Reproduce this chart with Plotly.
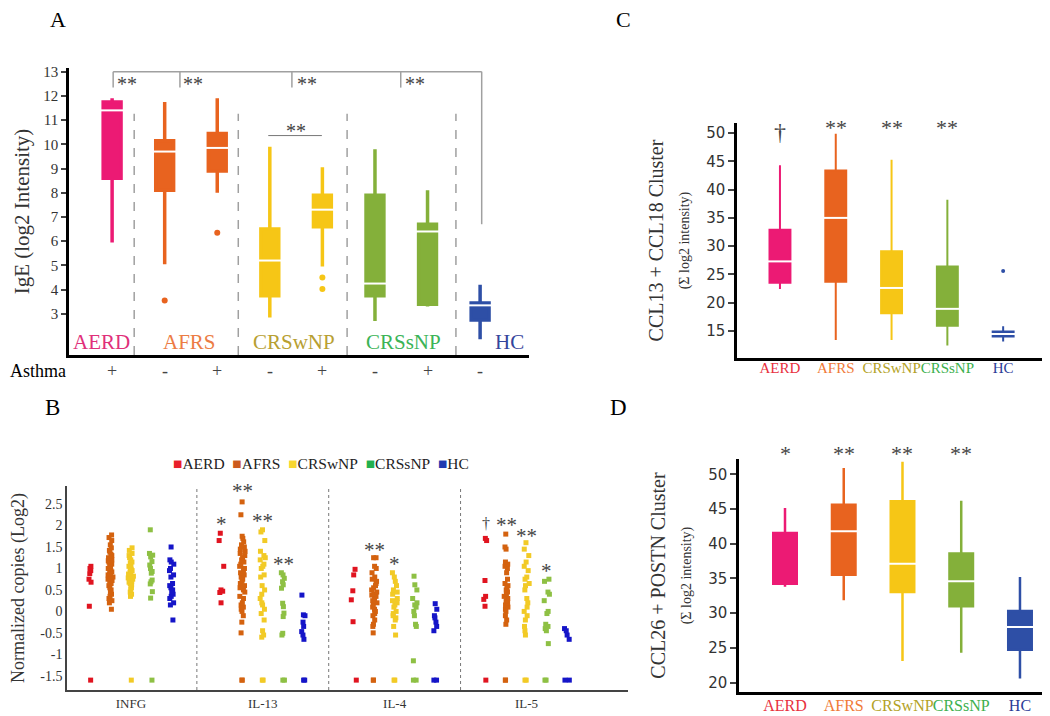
import plotly.graph_objects as go

SERIF = "Liberation Serif"
SANS = "DejaVu Sans"

# page body adds an 8px margin, so lay out on a 1042x708 canvas
W, H, OFF = 1042, 708, 8


def px(x):
    return (x - OFF) / W


def py(y):
    return 1 - (y - OFF) / H


groups = ["AERD", "AFRS", "CRSwNP", "CRSsNP", "HC"]

# colours
box_colors = ["#ec1a74", "#e8631f", "#f6c616", "#84b03a", "#2e4fa6"]
a_label_colors = ["#e0307a", "#ec7c44", "#b8a032", "#3cb457", "#34459c"]
cd_label_colors = ["#e8303e", "#f07a38", "#b3a226", "#3cb04e", "#2c3c98"]
dot_colors = ["#e01420", "#d4620f", "#f2ca26", "#8ec044", "#1515c8"]
legend_colors = ["#e8202a", "#cc5a1c", "#f8d630", "#22b04e", "#1e3ab0"]

# ---- panel A: IgE by group and asthma status ----
a_pos = [1, 2, 3, 4, 5, 6, 7, 8]
a_group = ["AERD", "AFRS", "AFRS", "CRSwNP", "CRSwNP", "CRSsNP", "CRSsNP", "HC"]
a_asthma = ["+", "-", "+", "-", "+", "-", "+", "-"]
a_low = [5.95, 5.05, 8.0, 2.85, 4.95, 2.7, 3.3, 1.95]
a_q1 = [8.6, 8.1, 8.9, 3.75, 6.6, 3.75, 3.4, 2.75]
a_med = [11.4, 9.7, 9.85, 5.2, 7.3, 4.25, 6.4, 3.35]
a_q3 = [11.75, 10.15, 10.45, 6.5, 7.9, 7.9, 6.7, 3.45]
a_high = [11.9, 11.75, 11.9, 9.9, 9.05, 9.8, 8.1, 4.2]
a_out_x = [2, 3, 5, 5]
a_out_y = [3.55, 6.35, 4.5, 4.02]

# ---- panel B: normalized copies (log2) per gene ----
genes = ["INFG", "IL-13", "IL-4", "IL-5"]
b_yticks = [2.5, 2, 1.5, 1, 0.5, 0, -0.5, -1, -1.5]

infg_aerd = [1.05, 1.0, 0.95, 0.88, 0.75, 0.68, 0.12, -1.6]
infg_afrs = [1.78, 1.72, 1.65, 1.55, 1.48, 1.42, 1.38, 1.33, 1.3, 1.25, 1.2, 1.18, 1.15,
             1.12, 1.1, 1.05, 1.02, 1.0, 0.98, 0.95, 0.92, 0.9, 0.87, 0.85, 0.82, 0.8,
             0.77, 0.75, 0.72, 0.7, 0.65, 0.6, 0.55, 0.5, 0.45, 0.4, 0.35, 0.3, 0.25, 0.2, 0.05]
infg_crswnp = [1.48, 1.42, 1.35, 1.3, 1.25, 1.2, 1.15, 1.12, 1.08, 1.05, 1.0, 0.98, 0.95,
               0.92, 0.9, 0.87, 0.85, 0.82, 0.8, 0.78, 0.75, 0.72, 0.7, 0.68, 0.65, 0.62,
               0.6, 0.55, 0.5, 0.45, 0.4, 0.35, -1.6]
infg_crssnp = [1.9, 1.35, 1.31, 1.27, 1.16, 1.08, 1.0, 0.93, 0.89, 0.73, 0.69, 0.64, 0.46, 0.31, -1.6]
infg_hc = [1.5, 1.2, 1.15, 1.1, 1.0, 0.95, 0.85, 0.8, 0.65, 0.6, 0.55, 0.5, 0.45, 0.4,
           0.35, 0.3, 0.2, 0.15, -0.2]

il13_aerd = [1.82, 1.65, 1.05, 0.5, 0.47, 0.44, 0.2]
il13_afrs = [2.55, 2.25, 1.75, 1.7, 1.62, 1.55, 1.5, 1.45, 1.4, 1.35, 1.3, 1.25, 1.2, 1.15,
             1.1, 1.05, 1.0, 0.95, 0.9, 0.85, 0.8, 0.75, 0.7, 0.65, 0.6, 0.55, 0.5, 0.45,
             0.35, 0.3, 0.2, 0.15, 0.1, 0.05, 0.0, -0.1, -0.25, -0.5, -1.6, -1.6]
il13_crswnp = [1.9, 1.85, 1.65, 1.4, 1.3, 1.25, 1.2, 1.1, 1.05, 1.0, 0.85, 0.8, 0.6, 0.5,
               0.4, 0.3, 0.2, 0.15, 0.05, -0.05, -0.2, -0.45, -0.55, -0.6, -1.6, -1.6]
il13_crssnp = [0.9, 0.85, 0.77, 0.69, 0.62, 0.54, 0.19, 0.11, -0.04, -0.12, -0.51, -0.55, -1.6, -1.6]
il13_hc = [0.38, -0.08, -0.1, -0.25, -0.35, -0.47, -0.55, -0.65, -1.6, -1.6]

il4_aerd = [0.98, 0.85, 0.48, 0.27, -0.24, -1.6]
il4_afrs = [1.25, 1.25, 1.05, 1.0, 0.9, 0.8, 0.75, 0.7, 0.65, 0.6, 0.55, 0.5, 0.45, 0.4,
            0.38, 0.35, 0.3, 0.25, 0.2, 0.15, 0.1, 0.05, 0.0, -0.05, -0.1, -0.2, -0.3,
            -0.35, -0.5, -1.6, -1.6]
il4_crswnp = [0.9, 0.8, 0.7, 0.6, 0.5, 0.45, 0.4, 0.3, 0.25, 0.2, 0.15, 0.1, 0.0, -0.05,
              -0.1, -0.15, -0.2, -0.35, -0.55, -1.6, -1.6]
il4_crssnp = [0.82, 0.62, 0.5, 0.3, 0.2, 0.15, 0.1, 0.0, -0.1, -0.3, -0.35, -1.15, -1.6, -1.6]
il4_hc = [0.18, 0.05, -0.1, -0.15, -0.25, -0.35, -0.45, -1.6, -1.6]

il5_aerd = [1.7, 1.65, 0.72, 0.35, 0.28, 0.12, -1.6]
il5_afrs = [1.8, 1.5, 1.45, 1.15, 1.1, 1.05, 1.0, 0.9, 0.75, 0.65, 0.6, 0.55, 0.5, 0.45,
            0.4, 0.35, 0.3, 0.25, 0.2, 0.15, 0.1, 0.05, 0.0, -0.1, -0.2, -0.3, -1.6, -1.6]
il5_crswnp = [1.6, 1.45, 1.3, 1.15, 1.05, 0.95, 0.8, 0.75, 0.65, 0.6, 0.5, 0.3, 0.2, 0.1,
              0.0, -0.1, -0.2, -0.35, -0.45, -0.55, -1.6, -1.6]
il5_crssnp = [0.75, 0.7, 0.45, 0.4, 0.25, 0.0, -0.05, -0.3, -0.35, -0.4, -0.45, -0.75, -1.6, -1.6]
il5_hc = [-0.4, -0.45, -0.55, -0.65, -1.6, -1.6]

b_points = {
    "AERD": [infg_aerd, il13_aerd, il4_aerd, il5_aerd],
    "AFRS": [infg_afrs, il13_afrs, il4_afrs, il5_afrs],
    "CRSwNP": [infg_crswnp, il13_crswnp, il4_crswnp, il5_crswnp],
    "CRSsNP": [infg_crssnp, il13_crssnp, il4_crssnp, il5_crssnp],
    "HC": [infg_hc, il13_hc, il4_hc, il5_hc],
}

# significance marks in B: gene, group, text, level
b_sig_gene = ["IL-13", "IL-13", "IL-13", "IL-13", "IL-4", "IL-4", "IL-5", "IL-5", "IL-5", "IL-5"]
b_sig_group = ["AERD", "AFRS", "CRSwNP", "CRSsNP", "AFRS", "CRSwNP", "AERD", "AFRS", "CRSwNP", "CRSsNP"]
b_sig_text = ["*", "**", "**", "**", "**", "*", "†", "**", "**", "*"]
b_sig_y = [2.13, 2.9, 2.2, 1.2, 1.52, 1.2, 2.05, 2.1, 1.85, 1.03]

# ---- panel C: CCL13 + CCL18 cluster ----
c_low = [22.4, 13.4, 13.4, 12.4, 13.1]
c_q1 = [23.5, 23.7, 18.1, 15.9, 14.0]
c_med = [27.3, 35.0, 22.6, 18.9, 14.45]
c_q3 = [32.9, 43.4, 29.1, 26.4, 14.9]
c_high = [44.3, 49.9, 45.3, 38.2, 15.8]
c_out_x = ["HC"]
c_out_y = [25.6]
c_sig = ["†", "**", "**", "**", ""]

# ---- panel D: CCL26 + POSTN cluster ----
d_low = [33.8, 31.85, 23.1, 24.3, 20.6]
d_q1 = [34.25, 35.55, 33.05, 31.0, 24.75]
d_med = [34.25, 41.8, 37.1, 34.6, 28.0]
d_q3 = [41.55, 45.6, 46.1, 38.6, 30.3]
d_high = [45.15, 50.9, 51.8, 46.2, 35.2]
d_sig = ["*", "**", "**", "**", ""]

fig = go.Figure()

# panel A boxes
for i, p in enumerate(a_pos):
    col = box_colors[groups.index(a_group[i])]
    fig.add_trace(go.Box(
        x=[p], q1=[a_q1[i]], median=[a_med[i]], q3=[a_q3[i]],
        lowerfence=[a_low[i]], upperfence=[a_high[i]],
        width=0.34, whiskerwidth=0, boxpoints=False,
        fillcolor=col, line=dict(color=col, width=3.5),
        xaxis="x", yaxis="y", showlegend=False))
fig.add_trace(go.Scatter(
    x=a_pos, y=a_med, mode="markers", xaxis="x", yaxis="y", showlegend=False,
    marker=dict(symbol="line-ew", size=20, line=dict(color="white", width=2))))
fig.add_trace(go.Scatter(
    x=a_out_x, y=a_out_y, mode="markers", xaxis="x", yaxis="y", showlegend=False,
    marker=dict(size=6, color=[box_colors[groups.index(a_group[a_pos.index(x)])] for x in a_out_x])))

# panel B dot strips (box trace used only for its jittered points)
for gi, g in enumerate(groups):
    xs, ys = [], []
    for k, gene in enumerate(genes):
        xs += [gene] * len(b_points[g][k])
        ys += b_points[g][k]
    fig.add_trace(go.Box(
        x=xs, y=ys, name=g, boxpoints="all", jitter=0.28, pointpos=0,
        offsetgroup=g, alignmentgroup="B",
        fillcolor="rgba(0,0,0,0)", line=dict(color="rgba(0,0,0,0)", width=0),
        marker=dict(symbol="square", size=5, color=dot_colors[gi]),
        xaxis="x2", yaxis="y2", showlegend=False))


def cluster_panel(xa, ya, low, q1, med, q3, high, width, lw, msize):
    for i, g in enumerate(groups):
        fig.add_trace(go.Box(
            x=[g], q1=[q1[i]], median=[med[i]], q3=[q3[i]],
            lowerfence=[low[i]], upperfence=[high[i]],
            width=width, whiskerwidth=0, boxpoints=False,
            fillcolor=box_colors[i], line=dict(color=box_colors[i], width=lw),
            xaxis=xa, yaxis=ya, showlegend=False))
    mx = [g for i, g in enumerate(groups) if med[i] > q1[i]]
    my = [m for i, m in enumerate(med) if med[i] > q1[i]]
    fig.add_trace(go.Scatter(
        x=mx, y=my, mode="markers", xaxis=xa, yaxis=ya, showlegend=False,
        marker=dict(symbol="line-ew", size=msize, line=dict(color="white", width=2))))


cluster_panel("x3", "y3", c_low, c_q1, c_med, c_q3, c_high, 0.375, 2, 21)
fig.add_trace(go.Scatter(x=c_out_x, y=c_out_y, mode="markers", xaxis="x3", yaxis="y3",
                         showlegend=False, marker=dict(size=4, color=box_colors[4])))
cluster_panel("x4", "y4", d_low, d_q1, d_med, d_q3, d_high, 0.40, 2.5, 24)

# ---- annotations ----
ann = []
gray = "#444444"


def txt(x, y, text, size, color="black", font=SERIF, xref="paper", yref="paper",
        xanchor="center", yanchor="middle", **kw):
    ann.append(dict(x=x, y=y, xref=xref, yref=yref, text=text, showarrow=False,
                    xanchor=xanchor, yanchor=yanchor,
                    font=dict(family=font, size=size, color=color), **kw))


# panel letters
txt(px(58), py(20), "A", 22)
txt(px(52), py(407), "B", 23)
txt(px(623), py(20), "C", 22)
txt(px(618), py(407), "D", 23)

# A: group names inside plot, asthma row, brackets
a_label_x = [0.8, 2.48, 4.46, 6.55, 8.55]
for i, g in enumerate(groups):
    txt(a_label_x[i], 1.84, g, 21, a_label_colors[i], xref="x", yref="y")
txt(0, py(371), "Asthma", 18, xanchor="left")
for i, p in enumerate(a_pos):
    txt(p, py(371), a_asthma[i], 18, gray, xref="x")
a_star_x = [1.29, 2.54, 4.71, 6.76]
for x in a_star_x:
    txt(x, 12.67, "**", 20, gray, xref="x", yref="y", yshift=-4)
txt(4.5, 10.7, "**", 20, gray, xref="x", yref="y", yshift=-4)

# B: legend row, gene sig marks
leg = "\u00a0\u00a0".join(
    "<span style='color:%s'>\u25a0</span>%s" % (legend_colors[i], g) for i, g in enumerate(groups))
txt(px(171), py(464), leg, 15.5, "#222222", xanchor="left")
for i, t in enumerate(b_sig_text):
    gx = genes.index(b_sig_gene[i]) + (groups.index(b_sig_group[i]) - 2) * 0.155
    txt(gx, b_sig_y[i], t, 21 if t != "†" else 16, gray, xref="x2", yref="y2",
        yshift=-4 if t != "†" else 0)

# C / D sig marks
for i, g in enumerate(groups):
    if c_sig[i] == "†":
        txt(g, py(132), c_sig[i], 24, gray, xref="x3")
    elif c_sig[i]:
        txt(g, py(124), c_sig[i], 22, gray, xref="x3", yshift=-4)
    if d_sig[i]:
        txt(g, py(449), d_sig[i], 22, gray, xref="x4", yshift=-4)

# ---- shapes ----
shapes = []
a_div = [1.42, 3.4, 5.47, 7.54]
for xv in a_div:
    shapes.append(dict(type="line", xref="x", yref="y", x0=xv, x1=xv, y0=1.3, y1=11.26,
                       line=dict(color="#a0a0a0", width=1.5, dash="dash")))
a_br_x = [1.02, 2.29, 4.42, 6.49]
shapes.append(dict(type="line", xref="x", yref="y", x0=1.02, x1=8.03, y0=13, y1=13,
                   line=dict(color="#a0a0a0", width=1.5)))
for xv in a_br_x:
    shapes.append(dict(type="line", xref="x", yref="y", x0=xv, x1=xv, y0=13, y1=12.34,
                       line=dict(color="#a0a0a0", width=1.5)))
shapes.append(dict(type="line", xref="x", yref="y", x0=8.03, x1=8.03, y0=13, y1=6.7,
                   line=dict(color="#a0a0a0", width=1.5)))
shapes.append(dict(type="line", xref="x", yref="y", x0=3.97, x1=4.99, y0=10.36, y1=10.36,
                   line=dict(color="#777777", width=1)))
for xv in [0.5, 1.5, 2.5]:
    shapes.append(dict(type="line", xref="x2", yref="y2 domain", x0=xv, x1=xv, y0=0, y1=1,
                       line=dict(color="#777777", width=1, dash="dot")))

base_axis = dict(showgrid=False, zeroline=False, showline=True, linecolor="black")
cd_ticktext = ["<span style='color:%s'>%s</span>" % (cd_label_colors[i], g)
               for i, g in enumerate(groups)]

fig.update_layout(
    width=W, height=H, margin=dict(l=0, r=0, t=0, b=0),
    template="none", plot_bgcolor="white", paper_bgcolor="white",
    showlegend=False, boxmode="group", boxgap=0.225, boxgroupgap=0,
    annotations=ann, shapes=shapes,
    xaxis=dict(base_axis, domain=[px(69), px(529)], range=[0.18, 8.93], showticklabels=False,
               ticks="", linewidth=2.5, anchor="y"),
    yaxis=dict(base_axis, domain=[py(355), py(68)], range=[1.3, 13.15], tickvals=list(range(3, 14)),
               ticks="outside", ticklen=5, tickwidth=1.5, linewidth=2.5, anchor="x",
               tickfont=dict(family=SERIF, size=15, color="#333"),
               title=dict(text="IgE (log2 Intensity)", standoff=8,
                          font=dict(family=SERIF, size=21, color="#333"))),
    xaxis2=dict(base_axis, domain=[px(67), px(628)], range=[-0.485, 3.77], type="category",
                categoryorder="array", categoryarray=genes, ticks="", linewidth=2,
                linecolor="#444", anchor="y2", tickangle=0,
                tickfont=dict(family=SERIF, size=13, color="#333")),
    yaxis2=dict(base_axis, domain=[py(690), py(486)], range=[-1.83, 2.92], tickvals=b_yticks,
                ticktext=["%g" % v for v in b_yticks], ticks="", linewidth=1.5, linecolor="#444",
                anchor="x2", tickfont=dict(family=SERIF, size=14, color="#333"),
                title=dict(text="Normalized copies (Log2)", standoff=12,
                           font=dict(family=SERIF, size=18, color="#333"))),
    xaxis3=dict(base_axis, domain=[px(737), px(1045)], range=[-0.77, 4.75], type="category",
                categoryorder="array", categoryarray=groups, ticks="", linewidth=2.5,
                anchor="y3", tickangle=0, tickvals=groups, ticktext=cd_ticktext,
                ticklabelstandoff=-6, tickfont=dict(family=SERIF, size=15)),
    yaxis3=dict(base_axis, domain=[py(358), py(123)], range=[10.2, 51.8], tickvals=list(range(15, 55, 5)),
                ticks="outside", ticklen=6, tickwidth=1.5, linewidth=2.5, anchor="x3",
                tickfont=dict(family=SANS, size=15, color="#333"),
                title=dict(text="CCL13 + CCL18 Cluster<br><span style='font-size:14px'>(\u03a3 log2 intensity)</span>",
                           standoff=12, font=dict(family=SERIF, size=20, color="#333"))),
    xaxis4=dict(base_axis, domain=[px(739), px(1047)], range=[-0.783, 4.46], type="category",
                categoryorder="array", categoryarray=groups, ticks="", linewidth=2.5,
                anchor="y4", tickangle=0, tickvals=groups, ticktext=cd_ticktext,
                ticklabelstandoff=-3, tickfont=dict(family=SERIF, size=16)),
    yaxis4=dict(base_axis, domain=[py(692), py(459)], range=[18.65, 52.2], tickvals=list(range(20, 55, 5)),
                ticks="outside", ticklen=6, tickwidth=1.5, linewidth=2.5, anchor="x4",
                tickfont=dict(family=SANS, size=15, color="#333"),
                title=dict(text="CCL26 + POSTN Cluster<br><span style='font-size:14px'>(\u03a3 log2 intensity)</span>",
                           standoff=12, font=dict(family=SERIF, size=20, color="#333"))),
)

fig.write_html("out.html")
